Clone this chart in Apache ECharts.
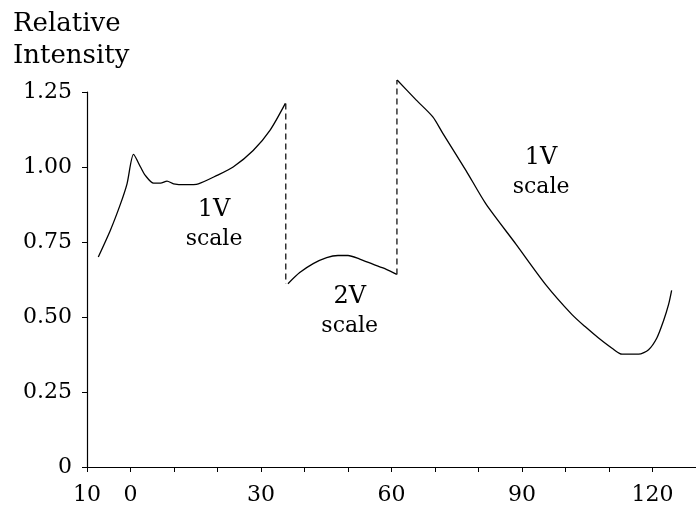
<!DOCTYPE html>
<html>
<head>
<meta charset="utf-8">
<script src="https://cdn.jsdelivr.net/npm/echarts@6/dist/echarts.min.js"></script>
<style>
  html, body { margin: 0; padding: 0; background: #fff; }
  #chart { width: 696px; height: 509px; }
</style>
</head>
<body>
<div id="chart"></div>
<script>
// Relative intensity vs angle, recorded on two different scale settings.
// Segment A: 1V scale
const segA = [
  [-7.4, 0.70], [-4.6, 0.79], [-2.3, 0.877], [-0.8, 0.944], [0.7, 1.042],
  [2.3, 1.0], [3.4, 0.972], [5.3, 0.946], [6.9, 0.946], [8.4, 0.953],
  [9.9, 0.944], [12.6, 0.941], [15.6, 0.944], [19.9, 0.972], [23.6, 1.0],
  [28.2, 1.055], [32.1, 1.123], [35.6, 1.212]
];
// Segment B: 2V scale
const segB = [
  [36.2, 0.611], [38.9, 0.648], [42.0, 0.678], [45.1, 0.698], [47.7, 0.705],
  [50.0, 0.705], [52.7, 0.693], [55.7, 0.676], [58.8, 0.659], [61.2, 0.642]
];
// Segment C: 1V scale
const segC = [
  [61.3, 1.29], [65.7, 1.223], [69.5, 1.167], [71.8, 1.112], [77.1, 0.989],
  [81.7, 0.877], [88.6, 0.743], [95.4, 0.609], [101.5, 0.508], [104.5, 0.468],
  [107.6, 0.43], [110.7, 0.396], [113.0, 0.376], [116.8, 0.376], [119.1, 0.391],
  [121.0, 0.43], [122.5, 0.486], [123.7, 0.542], [124.4, 0.589]
];
// Scale-change jumps (dashed verticals)
const jump1 = [[35.7, 1.212], [35.7, 0.611]];
const jump2 = [[61.25, 0.642], [61.25, 1.29]];

// Annotations: [x, y, scale name]
const notes = [
  [19.2, 0.81, '1V'],
  [50.4, 0.52, '2V'],
  [94.4, 0.983, '1V']
];

const xLabelsShown = { '-10': '10', '0': '0', '30': '30', '60': '60', '90': '90', '120': '120' };

const serif = 'DejaVu Serif';
const chart = echarts.init(document.getElementById('chart'));

const solid = (data) => ({
  type: 'line', data, symbol: 'none', smooth: 0.25, clip: false,
  lineStyle: { color: '#000', width: 1.3 }, z: 3, animation: false
});
const dashed = (data) => ({
  type: 'line', data, symbol: 'none', clip: false,
  lineStyle: { color: '#000', width: 1.2, type: [6, 4] }, z: 2, animation: false
});

chart.setOption({
  animation: false,
  backgroundColor: '#fff',
  title: {
    text: 'Relative\nIntensity',
    left: 8, top: 3,
    textStyle: { fontFamily: serif, fontSize: 26, fontWeight: 'normal', color: '#000', lineHeight: 32 }
  },
  grid: { left: 87, right: -2, top: 92, bottom: 42, containLabel: false },
  xAxis: {
    type: 'value', min: -10, max: 130, interval: 10,
    axisLine: { onZero: false, lineStyle: { color: '#000', width: 1.2 } },
    axisTick: { show: true, length: 5, lineStyle: { color: '#000' } },
    splitLine: { show: false },
    axisLabel: {
      interval: 0, margin: 17, color: '#000', fontFamily: serif, fontSize: 22,
      showMaxLabel: false,
      formatter: (v) => (xLabelsShown[String(v)] !== undefined ? xLabelsShown[String(v)] : '')
    }
  },
  yAxis: {
    type: 'value', min: 0, max: 1.25, interval: 0.25,
    axisLine: { show: true, onZero: false, lineStyle: { color: '#000', width: 1.2 } },
    axisTick: { show: true, length: 5, lineStyle: { color: '#000' } },
    splitLine: { show: false },
    axisLabel: {
      margin: 15, color: '#000', fontFamily: serif, fontSize: 22,
      formatter: (v) => (v === 0 ? '0' : v.toFixed(2))
    }
  },
  series: [
    solid(segA),
    dashed(jump1),
    solid(segB),
    dashed(jump2),
    solid(segC),
    {
      type: 'scatter', symbolSize: 0, animation: false, z: 5,
      itemStyle: { color: '#000' },
      data: notes.map(n => ({ value: [n[0], n[1]], name: n[2] })),
      label: {
        show: true, position: 'inside', color: '#000', opacity: 1,
        formatter: (p) => '{a|' + p.name + '}\n{b|scale}',
        rich: {
          a: { fontFamily: serif, fontSize: 24, color: '#000', lineHeight: 30, align: 'center' },
          b: { fontFamily: serif, fontSize: 22, color: '#000', lineHeight: 28, align: 'center' }
        }
      }
    }
  ]
});
</script>
</body>
</html>
